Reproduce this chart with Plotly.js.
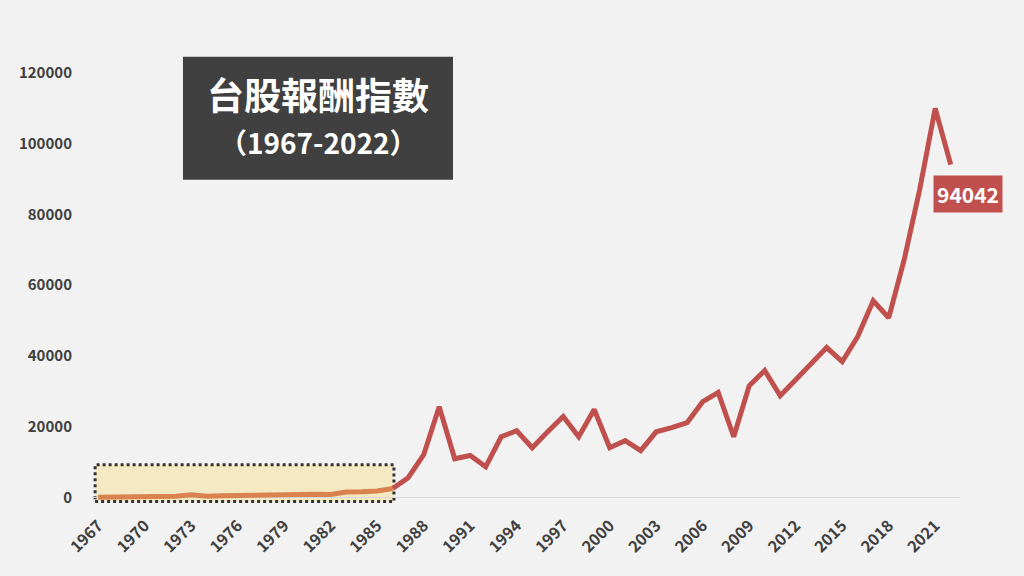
<!DOCTYPE html>
<html>
<head>
<meta charset="utf-8">
<script src="https://cdn.plot.ly/plotly-3.0.1.min.js"></script>
<style>
html,body{margin:0;padding:0;background:#f2f2f2;}
#chart{width:1024px;height:576px;}
</style>
</head>
<body>
<div id="chart"></div>
<script>
// ---- Data ----
const years = [1967,1968,1969,1970,1971,1972,1973,1974,1975,1976,1977,1978,1979,1980,1981,1982,1983,1984,1985,1986,
  1987,1988,1989,1990,1991,1992,1993,1994,1995,1996,1997,1998,1999,2000,2001,2002,2003,2004,2005,2006,
  2007,2008,2009,2010,2011,2012,2013,2014,2015,2016,2017,2018,2019,2020,2021,2022];
const indexValues = [150,200,200,180,250,400,800,400,550,650,700,800,1000,1000,950,900,1600,1700,1900,2600,
  5650,12150,25700,11000,11900,8760,17200,18900,14100,18600,22900,17200,24900,14100,16100,13300,18600,19800,21200,27100,
  29700,17200,31600,35900,28800,33300,38100,42400,38400,45500,55600,50800,67200,87000,109900,94042];
const earlyEndYear = 1986;
const tickYears = [1967,1970,1973,1976,1979,1982,1985,1988,1991,1994,1997,2000,2003,2006,2009,2012,2015,2018,2021];
const yTicks = [0,20000,40000,60000,80000,100000,120000];
const titleMain = '台股報酬指數';
const titleSub = '（1967-2022）';

// ---- Build ----
const earlyIdx = years.map((y,i)=>i).filter(i=>years[i] <= earlyEndYear);
const lateIdx = years.map((y,i)=>i).filter(i=>years[i] >= earlyEndYear);
const FONT = '"Noto Sans CJK TC", "Noto Sans", sans-serif';
const red = '#c0504d';
const orange = '#d9824f';

const traces = [
  {x: lateIdx.map(i=>years[i]), y: lateIdx.map(i=>indexValues[i]), type:'scatter', mode:'lines',
   line:{color:red, width:5}, hoverinfo:'skip'},
  {x: earlyIdx.map(i=>years[i]), y: earlyIdx.map(i=>indexValues[i]), type:'scatter', mode:'lines',
   line:{color:orange, width:5}, hoverinfo:'skip'}
];

const lastYear = years[years.length-1];
const lastVal = indexValues[indexValues.length-1];

const layout = {
  width:1024, height:576,
  paper_bgcolor:'#f2f2f2', plot_bgcolor:'#f2f2f2',
  margin:{l:92, r:64, t:55, b:73},
  showlegend:false,
  font:{family:FONT, color:'#404040'},
  xaxis:{
    range:[years[0]-0.4, lastYear+0.6],
    tickvals:tickYears, ticktext:tickYears.map(String),
    tickangle:-45, showgrid:false, zeroline:false, showline:false,
    ticks:'outside', ticklen:6, tickcolor:'rgba(0,0,0,0)',
    tickfont:{family:FONT, size:16, color:'#404040', weight:'bold'}
  },
  yaxis:{
    range:[-1500,125000],
    tickvals:yTicks, ticktext:yTicks.map(String),
    showgrid:false, zeroline:true, zerolinecolor:'#d9d9d9', zerolinewidth:1, showline:false,
    ticks:'outside', ticklen:16, tickcolor:'rgba(0,0,0,0)',
    tickfont:{family:FONT, size:15, color:'#404040', weight:'bold'}
  },
  shapes:[
    {type:'rect', layer:'below', xref:'x', yref:'y',
     x0:years[0]-0.2, x1:earlyEndYear+0.08, y0:-1100, y1:9300,
     fillcolor:'#f5e9c3', line:{color:'#333333', width:3, dash:'dot'}},
    {type:'rect', layer:'above', xref:'paper', yref:'paper',
     x0:0.1048, x1:0.4159, y0:0.7217, y1:0.9963,
     fillcolor:'#404040', line:{width:0}}
  ],
  annotations:[
    {xref:'paper', yref:'paper', x:0.2604, y:0.912, text:titleMain, showarrow:false,
     xanchor:'center', yanchor:'middle',
     font:{family:FONT, size:37, color:'#ffffff', weight:'bold'}},
    {xref:'paper', yref:'paper', x:0.2604, y:0.8065, text:titleSub, showarrow:false,
     xanchor:'center', yanchor:'middle',
     font:{family:FONT, size:28, color:'#ffffff', weight:'bold'}},
    {xref:'x', yref:'y', x:lastYear, y:lastVal, text:String(lastVal), showarrow:false,
     xanchor:'center', yanchor:'middle', xshift:17, yshift:-29,
     bgcolor:red, borderpad:3,
     font:{family:FONT, size:21, color:'#ffffff', weight:'bold'}}
  ]
};

Plotly.newPlot('chart', traces, layout, {displayModeBar:false, staticPlot:true});
</script>
</body>
</html>
